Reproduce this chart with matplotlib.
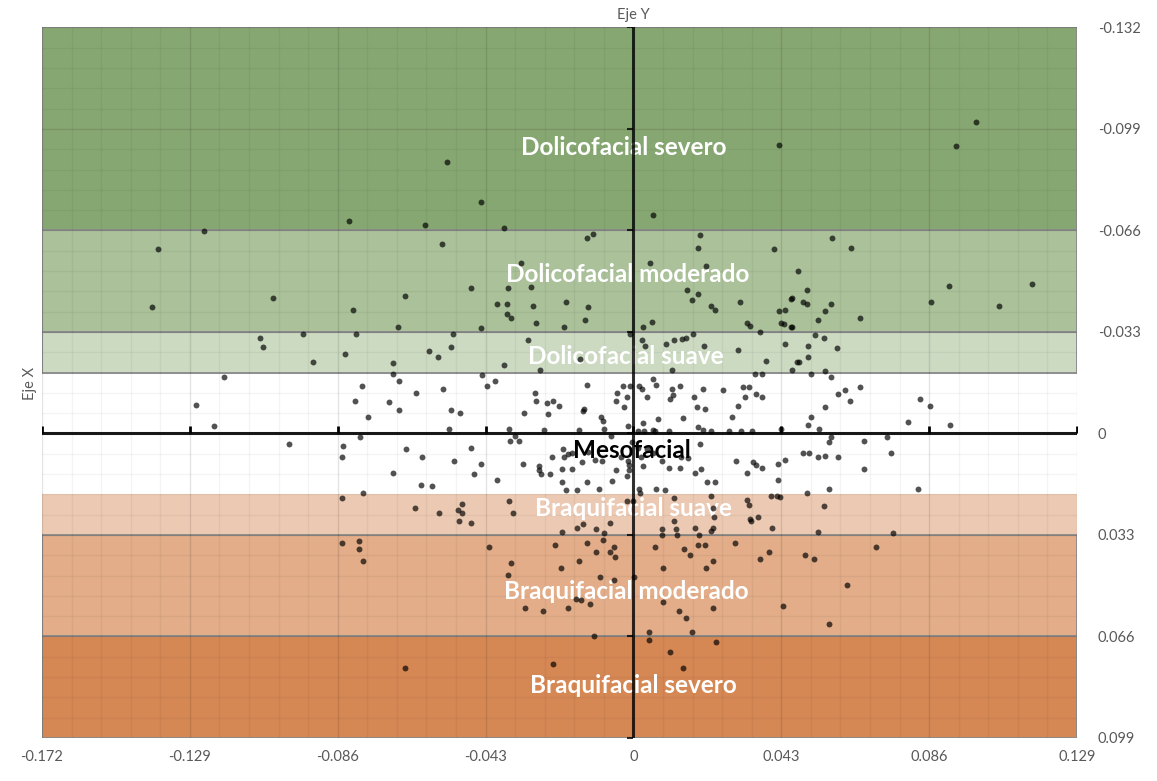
import numpy as np
import matplotlib
matplotlib.use('Agg')
import matplotlib.pyplot as plt
from matplotlib.patches import Rectangle
from matplotlib.ticker import FixedLocator

plt.rcParams['font.family'] = ['Lato', 'DejaVu Sans']

# Axis ticks
X_TICKS = [-0.172, -0.129, -0.086, -0.043, 0.0, 0.043, 0.086, 0.129]
X_TICK_LABELS = ['-0.172', '-0.129', '-0.086', '-0.043', '0', '0.043', '0.086', '0.129']
Y_TICKS = [-0.132, -0.099, -0.066, -0.033, 0.0, 0.033, 0.066, 0.099]
Y_TICK_LABELS = ['-0.132', '-0.099', '-0.066', '-0.033', '0', '0.033', '0.066', '0.099']

# Facial type bands
BAND_NAMES = ['Dolicofacial severo', 'Dolicofacial moderado', 'Dolicofacial suave',
              'Mesofacial', 'Braquifacial suave', 'Braquifacial moderado', 'Braquifacial severo']
BAND_LOW = [-0.132, -0.066, -0.033, -0.0198, 0.0198, 0.033, 0.066]
BAND_HIGH = [-0.066, -0.033, -0.0198, 0.0198, 0.033, 0.066, 0.099]
BAND_COLORS = ['#87a772', '#aac19a', '#ccdac2', None, '#ecc9b2', '#e2ad88', '#d58854']
BAND_EDGE = [True, True, True, False, False, True, True]
LABEL_X = [-0.0027, -0.0016, -0.0022, -0.0004, 0.0, -0.0022, 0.0]
LABEL_Y = [-0.0930, -0.0517, -0.0250, 0.0055, 0.0244, 0.0514, 0.0820]
LABEL_COLORS = ['white', 'white', 'white', 'black', 'white', 'white', 'white']

# Scatter points
x_vals = [
    -0.1383, -0.1249, -0.0827, -0.0542, -0.0443, -0.0606, -0.0376, -0.0557, -0.0135, -0.0117,
    0.0057, 0.0194, 0.0188, 0.0409, 0.0423, 0.0996, 0.0938, 0.0578, 0.0633,
    -0.1400, -0.1048, -0.0815, -0.0685, -0.1086, -0.1077, -0.0961, -0.0807, -0.0932, -0.0839,
    -0.0699, -0.1191, -0.0699, -0.0682, -0.0789, -0.1272, -0.0810, -0.0711, -0.0682, -0.0772,
    -0.1220, -0.0795, -0.1002, -0.0845, -0.0847, -0.0699, -0.0786, -0.0847,
    -0.0327, 0.0048, 0.0211, -0.0472, -0.0365, -0.0298, 0.0156, 0.0188, -0.0664, -0.0397,
    -0.0368, -0.0292, -0.0196, -0.0132, 0.0170, 0.0226, 0.0237, 0.0310, 0.0458, 0.0441,
    0.0423, -0.0368, -0.0356, -0.0141, -0.0283, -0.0202, -0.0443, 0.0054, 0.0028, 0.0330,
    0.0339, 0.0429, 0.0458, 0.0368, -0.0010,
    0.0479, 0.0505, 0.0461, 0.0493, 0.0505, 0.0575, 0.0557, 0.0537, 0.0659, 0.0438,
    0.0461, 0.0866, 0.0918, 0.1063, 0.1159,
    -0.0525, -0.0594, -0.0568, -0.0530, -0.0376, -0.0307, -0.0272, -0.0155, 0.0025, 0.0034,
    0.0095, 0.0118, 0.0141, 0.0153, 0.0173, 0.0205, 0.0304, 0.0386, 0.0441, 0.0476,
    0.0461, 0.0354, 0.0374, 0.0112,
    0.0528, 0.0554, 0.0508, 0.0592, 0.0508, 0.0482, 0.0517, 0.0557, 0.0575,
    -0.0632, -0.0554, -0.0440, -0.0426, -0.0403, -0.0135, -0.0030, -0.0010, -0.0048, -0.0019,
    -0.0051, -0.0027, 0.0016, 0.0057, 0.0066, 0.0025, 0.0040, 0.0112, 0.0136, 0.0115,
    0.0106, 0.0176, 0.0202, 0.0261, 0.0319, 0.0336, 0.0325, 0.0357, 0.0374, 0.0304,
    0.0185, 0.0208, 0.0287, 0.0144, 0.0072, 0.0028, 0.0057, -0.0016, -0.0286, -0.0283,
    -0.0251, -0.0234, -0.0216, -0.0248, -0.0318, -0.0147, -0.0144, -0.0094, -0.0088, -0.0530,
    -0.0504, -0.0536, -0.0362, -0.0260, -0.0158, -0.0086, 0.0188, 0.0202, 0.0226, 0.0278,
    0.0313, 0.0345, 0.0429, 0.0013, 0.0031, 0.0063, 0.0104, -0.0065,
    0.0659, 0.0615, 0.0595, 0.0630, 0.0557, 0.0517, 0.0508, 0.0540, 0.0799, 0.0834,
    0.0863, 0.0921,
    -0.0344, -0.0359, -0.0333, -0.0661, -0.0615, -0.0472, -0.0522, -0.0443, -0.0464, -0.0397,
    -0.0618, -0.0586, -0.0321, -0.0275, -0.0275, -0.0269, -0.0243, -0.0208, -0.0179, -0.0208,
    -0.0237, -0.0205, -0.0202, -0.0190, -0.0179, -0.0149, -0.0132, -0.0112, -0.0091, -0.0135,
    -0.0196, -0.0164, -0.0100, -0.0062, -0.0051, -0.0036, -0.0016, -0.0013, -0.0013, -0.0019,
    -0.0004, 0.0013, 0.0022, 0.0028, 0.0040, 0.0057, 0.0083, 0.0104, 0.0136, 0.0138,
    0.0159, 0.0179, 0.0197, 0.0194, 0.0214, 0.0237, 0.0298, 0.0330, 0.0348, 0.0357,
    0.0374, 0.0421, 0.0441, 0.0421, 0.0016, 0.0019, 0.0066, 0.0092, 0.0118, 0.0226,
    0.0575, 0.0569, 0.0671, 0.0738, 0.0749, 0.0493, 0.0511, 0.0537, 0.0557, 0.0595,
    0.0671, 0.0569, 0.0828, 0.0505, 0.0426, 0.0554,
    -0.0635, -0.0565, -0.0510, -0.0498, -0.0498, -0.0362, -0.0350, -0.0019, 0.0000, 0.0231,
    0.0330, 0.0336, 0.0400, 0.0418, 0.0339, 0.0362, 0.0234, -0.0507, -0.0472, -0.0208,
    -0.0164, -0.0147, -0.0109, -0.0086, -0.0068, 0.0083, 0.0083, 0.0124, 0.0127, 0.0179,
    0.0191, 0.0226, 0.0231, 0.0342, 0.0403, 0.0118,
    0.0537, 0.0755, 0.0706, 0.0499, 0.0525, 0.0621, 0.0435, 0.0569,
    -0.0847, -0.0798, -0.0798, -0.0786,
    -0.0420, -0.0228, -0.0135, -0.0088, -0.0056, -0.0068, -0.0109, -0.0054, 0.0063, 0.0147,
    0.0165, 0.0188, 0.0208, 0.0295, 0.0394, 0.0368, 0.0231, 0.0211, 0.0086, -0.0356,
    -0.0365, -0.0211, -0.0158, -0.0097, -0.0056, 0.0002, -0.0167, -0.0152, -0.0126, -0.0190,
    -0.0263, -0.0315, 0.0086, 0.0133, 0.0153, 0.0170, 0.0231, 0.0045, 0.0045, -0.0115,
    0.0106, 0.0144, 0.0240, -0.0234, -0.0664,
]
y_vals = [
    -0.0599, -0.0657, -0.0690, -0.0882, -0.0751, -0.0677, -0.0667, -0.0615, -0.0634, -0.0647,
    -0.0709, -0.0644, -0.0602, -0.0599, -0.0937, -0.1012, -0.0934, -0.0634, -0.0602,
    -0.0410, -0.0442, -0.0400, -0.0345, -0.0312, -0.0280, -0.0325, -0.0322, -0.0234, -0.0257,
    -0.0228, -0.0185, -0.0192, -0.0169, -0.0153, -0.0094, -0.0107, -0.0101, -0.0075, -0.0055,
    -0.0023, 0.0010, 0.0033, 0.0042, 0.0078, 0.0127, 0.0192, 0.0211,
    -0.0553, -0.0553, -0.0543, -0.0472, -0.0472, -0.0475, -0.0468, -0.0452, -0.0446, -0.0420,
    -0.0420, -0.0416, -0.0426, -0.0410, -0.0433, -0.0416, -0.0400, -0.0426, -0.0436, -0.0403,
    -0.0397, -0.0390, -0.0374, -0.0368, -0.0358, -0.0345, -0.0342, -0.0364, -0.0345, -0.0358,
    -0.0351, -0.0358, -0.0345, -0.0329, -0.0325,
    -0.0527, -0.0465, -0.0439, -0.0426, -0.0420, -0.0420, -0.0397, -0.0368, -0.0374, -0.0355,
    -0.0345, -0.0429, -0.0481, -0.0416, -0.0485,
    -0.0322, -0.0267, -0.0250, -0.0280, -0.0224, -0.0303, -0.0205, -0.0241, -0.0303, -0.0283,
    -0.0290, -0.0303, -0.0306, -0.0309, -0.0322, -0.0286, -0.0270, -0.0237, -0.0290, -0.0234,
    -0.0205, -0.0195, -0.0195, -0.0208,
    -0.0319, -0.0312, -0.0283, -0.0277, -0.0250, -0.0234, -0.0195, -0.0202, -0.0185,
    -0.0130, -0.0143, -0.0189, -0.0153, -0.0172, -0.0159, -0.0153, -0.0153, -0.0133, -0.0117,
    -0.0107, -0.0085, -0.0153, -0.0176, -0.0159, -0.0143, -0.0117, -0.0146, -0.0153, -0.0124,
    -0.0111, -0.0117, -0.0143, -0.0140, -0.0150, -0.0150, -0.0120, -0.0127, -0.0117, -0.0088,
    -0.0085, -0.0081, -0.0055, -0.0049, -0.0046, -0.0033, -0.0010, -0.0023, -0.0130, -0.0104,
    -0.0098, -0.0104, -0.0088, -0.0062, -0.0065, -0.0072, -0.0081, -0.0052, -0.0039, -0.0075,
    -0.0068, -0.0016, -0.0016, -0.0010, -0.0010, -0.0016, -0.0020, -0.0010, -0.0007, -0.0007,
    -0.0007, -0.0007, -0.0013, -0.0007, -0.0007, -0.0007, -0.0007, 0.0007,
    -0.0150, -0.0140, -0.0127, -0.0107, -0.0085, -0.0055, -0.0029, -0.0013, -0.0036, -0.0111,
    -0.0088, -0.0029,
    0.0007, 0.0023, 0.0023, 0.0052, 0.0075, 0.0046, 0.0091, 0.0098, 0.0133, 0.0150,
    0.0169, 0.0172, 0.0098, 0.0107, 0.0120, 0.0133, 0.0133, 0.0117, 0.0117, 0.0159,
    0.0078, 0.0052, 0.0078, 0.0068, 0.0062, 0.0094, 0.0059, 0.0085, 0.0088, 0.0159,
    0.0185, 0.0185, 0.0182, 0.0156, 0.0120, 0.0078, 0.0088, 0.0104, 0.0120, 0.0137,
    0.0029, 0.0046, 0.0078, 0.0107, 0.0049, 0.0065, 0.0088, 0.0111, 0.0111, 0.0078,
    0.0081, 0.0127, 0.0117, 0.0033, 0.0159, 0.0159, 0.0088, 0.0130, 0.0094, 0.0104,
    0.0111, 0.0098, 0.0085, 0.0150, 0.0179, 0.0195, 0.0182, 0.0185, 0.0211, 0.0202,
    0.0013, 0.0029, 0.0023, 0.0013, 0.0062, 0.0065, 0.0065, 0.0075, 0.0072, 0.0075,
    0.0117, 0.0179, 0.0179, 0.0195, 0.0205, 0.0237,
    0.0241, 0.0257, 0.0250, 0.0260, 0.0228, 0.0218, 0.0260, 0.0221, 0.0218, 0.0241,
    0.0215, 0.0231, 0.0202, 0.0202, 0.0277, 0.0273, 0.0273, 0.0283, 0.0290, 0.0319,
    0.0306, 0.0293, 0.0312, 0.0322, 0.0290, 0.0312, 0.0329, 0.0312, 0.0329, 0.0306,
    0.0329, 0.0316, 0.0306, 0.0283, 0.0306, 0.0286,
    0.0319, 0.0322, 0.0368, 0.0394, 0.0407, 0.0494, 0.0560, 0.0621,
    0.0355, 0.0351, 0.0374, 0.0416,
    0.0368, 0.0361, 0.0355, 0.0345, 0.0368, 0.0384, 0.0384, 0.0400, 0.0368, 0.0374,
    0.0394, 0.0364, 0.0361, 0.0355, 0.0384, 0.0407, 0.0416, 0.0439, 0.0436, 0.0420,
    0.0459, 0.0439, 0.0416, 0.0468, 0.0478, 0.0468, 0.0537, 0.0543, 0.0556, 0.0566,
    0.0576, 0.0569, 0.0547, 0.0576, 0.0599, 0.0644, 0.0566, 0.0644, 0.0673, 0.0660,
    0.0709, 0.0761, 0.0677, 0.0751, 0.0764,
]

X_MIN, X_MAX = X_TICKS[0], X_TICKS[-1]
Y_MIN, Y_MAX = Y_TICKS[0], Y_TICKS[-1]


def draw_chart():
    fig = plt.figure(figsize=(11.57, 7.81), dpi=100)
    ax = fig.add_axes([0.0363, 0.0551, 0.8946, 0.9097])

    # coloured bands behind everything
    for name, lo, hi, col, edge in zip(BAND_NAMES, BAND_LOW, BAND_HIGH, BAND_COLORS, BAND_EDGE):
        if col is None:
            continue
        rect = Rectangle((X_MIN, lo), X_MAX - X_MIN, hi - lo, facecolor=col,
                         edgecolor='#8c8c8c' if edge else 'none', lw=1.3, zorder=0.2)
        ax.add_patch(rect)

    # band labels
    for name, lx, ly, lc in zip(BAND_NAMES, LABEL_X, LABEL_Y, LABEL_COLORS):
        ax.text(lx, ly, name, ha='center', va='center', color=lc, fontsize=17.5,
                fontweight='bold', zorder=0.6)

    # gridlines (semi transparent so they tint over the bands)
    ax.set_axisbelow(True)
    ax.xaxis.set_major_locator(FixedLocator(X_TICKS))
    ax.yaxis.set_major_locator(FixedLocator(Y_TICKS))
    ax.xaxis.set_minor_locator(FixedLocator(np.linspace(X_MIN, X_MAX, 36)))
    ax.yaxis.set_minor_locator(FixedLocator(np.linspace(Y_MIN, Y_MAX, 36)))
    ax.grid(which='major', color='black', alpha=0.11, lw=1.0)
    ax.grid(which='minor', color='black', alpha=0.045, lw=1.0)

    # axis cross through the origin
    ax.axvline(0, color='black', lw=2.2, alpha=0.8, zorder=3)
    ax.axhline(0, color='black', lw=2.2, alpha=0.9, zorder=3)
    ax.plot(X_TICKS, [0] * len(X_TICKS), ls='none', marker=2, ms=5, mew=2,
            color='black', zorder=3)
    ax.plot([0] * len(Y_TICKS), Y_TICKS, ls='none', marker=0, ms=4, mew=1.5,
            color='black', alpha=0.8, zorder=3)

    # data points
    ax.scatter(x_vals, y_vals, s=18, color='black', alpha=0.68, linewidths=0, zorder=4)

    ax.set_xlim(X_MIN, X_MAX)
    ax.set_ylim(Y_MAX, Y_MIN)
    ax.set_xticklabels(X_TICK_LABELS)
    ax.set_yticklabels(Y_TICK_LABELS)
    ax.yaxis.tick_right()
    ax.tick_params(which='both', length=0)
    ax.tick_params(axis='x', pad=9, labelsize=10.5, labelcolor='#595959')
    ax.tick_params(axis='y', pad=15, labelsize=10.5, labelcolor='#595959')
    for s in ax.spines.values():
        s.set_visible(False)

    fig.text(633 / 1157, 1 - 15 / 781, 'Eje Y', ha='center', va='center',
             fontsize=10.5, color='#595959')
    fig.text(30 / 1157, 1 - 383 / 781, 'Eje X', ha='center', va='center',
             rotation=90, fontsize=10.5, color='#595959')

    fig.savefig('out.png', dpi=100)


def main():
    draw_chart()


if __name__ == '__main__':
    main()
